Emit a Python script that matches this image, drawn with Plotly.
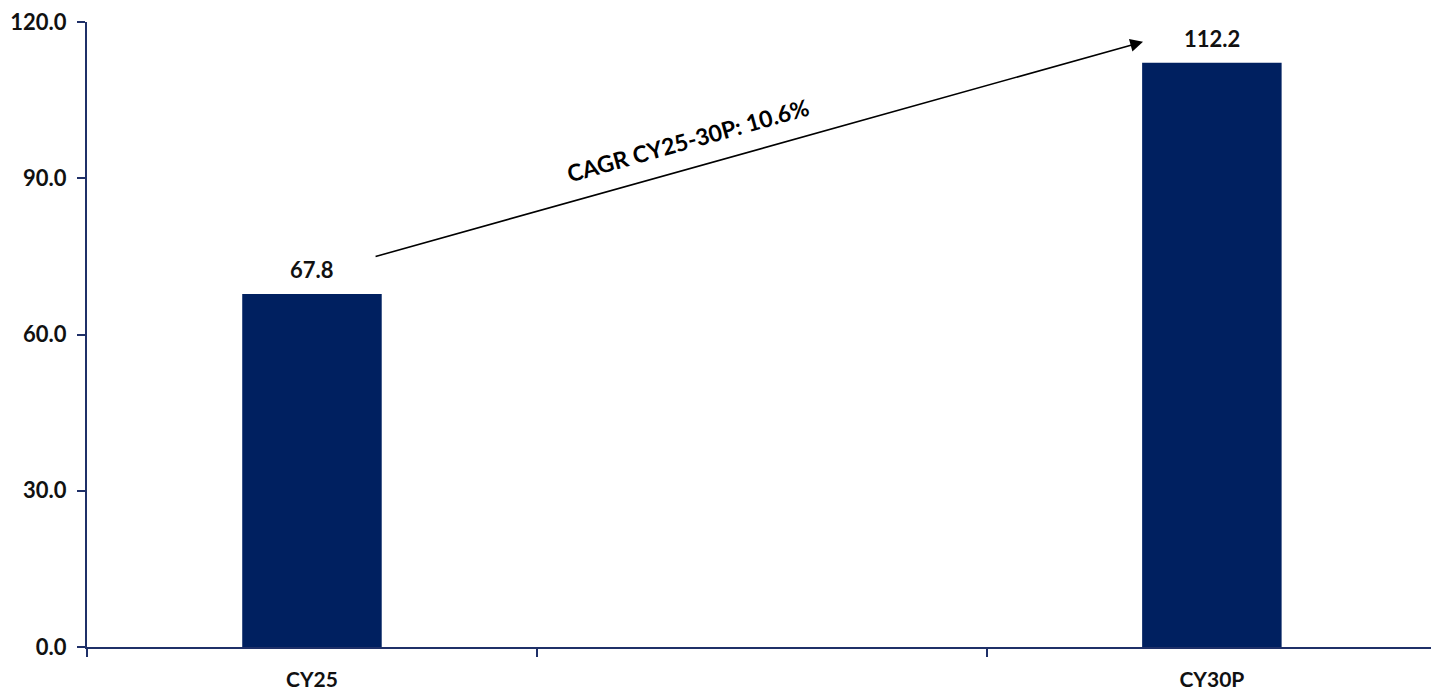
import plotly.graph_objects as go

# Chart data
categories = ["CY25", "CY30P"]
positions = [0, 2]          # slot index on the x axis (middle slot left empty)
values = [67.8, 112.2]
value_labels = ["67.8", "112.2"]
y_ticks = [0, 30, 60, 90, 120]
cagr_label = "CAGR CY25-30P: 10.6%"

BAR_COLOR = "#002060"
AXIS_COLOR = "#1F3068"
FONT = "Lato"

fig = go.Figure()
fig.add_trace(go.Bar(
    x=positions,
    y=values,
    width=0.31,
    marker=dict(color=BAR_COLOR, line=dict(width=0)),
    hoverinfo="skip",
))

# value labels above each bar
for xv, yv, txt in zip(positions, values, value_labels):
    fig.add_annotation(
        x=xv, y=yv, text=txt, showarrow=False,
        xanchor="center", yanchor="bottom", yshift=9,
        font=dict(family=FONT, size=22, color="#111111", weight="bold"),
    )

# growth arrow between the two bars
fig.add_annotation(
    x=1.847, y=116.2, ax=0.138, ay=74.9,
    xref="x", yref="y", axref="x", ayref="y",
    text="", showarrow=True,
    arrowhead=2, arrowsize=1.6, arrowwidth=1.6, arrowcolor="#000000",
)
fig.add_annotation(
    x=0.836, y=97.3, text=cagr_label, showarrow=False,
    textangle=-15.7, xanchor="center", yanchor="middle",
    font=dict(family=FONT, size=23, color="#000000", weight="bold"),
)

fig.update_layout(
    width=1431, height=691,
    margin=dict(l=87, r=0, t=22, b=41),
    paper_bgcolor="white", plot_bgcolor="white",
    showlegend=False,
    font=dict(family=FONT, size=21, color="#111111", weight="bold"),
)
fig.update_xaxes(
    range=[-0.5, 2.487],
    tickvals=positions, ticktext=categories, ticks="",
    showgrid=False, zeroline=False,
    showline=True, linecolor=AXIS_COLOR, linewidth=2,
    ticklabelstandoff=13,
    tickfont=dict(family=FONT, size=21, color="#111111", weight="bold"),
    minor=dict(tickvals=[-0.5, 0.5, 1.5], ticks="outside", ticklen=8,
               tickwidth=2, tickcolor=AXIS_COLOR, showgrid=False),
    fixedrange=True,
)
fig.update_yaxes(
    range=[0, 120],
    tickvals=y_ticks, tickformat=".1f", ticks="outside", ticklen=8,
    tickwidth=2, tickcolor=AXIS_COLOR,
    showgrid=False, zeroline=False,
    showline=True, linecolor=AXIS_COLOR, linewidth=2,
    ticklabelstandoff=6,
    tickfont=dict(family=FONT, size=22, color="#111111", weight="bold"),
    fixedrange=True,
)

fig.write_html("out.html")
